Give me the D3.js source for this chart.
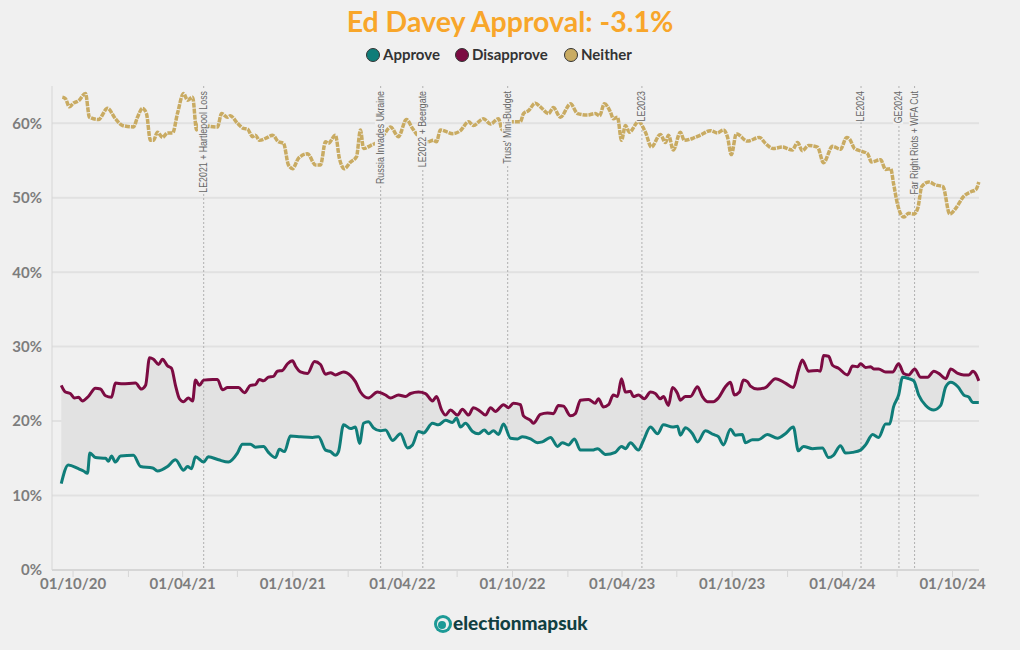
<!DOCTYPE html>
<html><head><meta charset="utf-8">
<script src="https://cdn.jsdelivr.net/npm/d3@7"></script>
<style>body{margin:0;background:#f0f0f0}svg{display:block}</style>
</head><body>
<script>
// ---- DATA (dates as decimal years, values in %) ----
const seriesNames = ["Approve", "Disapprove", "Neither"];
const approve = [[2020.695,11.6],[2020.727,14.1],[2020.773,13.6],[2020.796,13.3],[2020.814,13.0],[2020.825,15.7],[2020.850,15.1],[2020.896,15.0],[2020.909,14.6],[2020.923,15.3],[2020.941,14.5],[2020.964,15.3],[2021.023,15.4],[2021.055,13.9],[2021.110,13.7],[2021.132,13.3],[2021.178,13.9],[2021.214,14.8],[2021.251,13.4],[2021.269,13.9],[2021.287,13.6],[2021.305,15.2],[2021.342,14.5],[2021.364,15.2],[2021.410,14.8],[2021.455,14.5],[2021.496,15.7],[2021.519,16.9],[2021.555,16.9],[2021.578,16.5],[2021.615,16.6],[2021.637,15.8],[2021.669,15.1],[2021.687,16.2],[2021.710,15.9],[2021.737,18.0],[2021.783,17.9],[2021.838,17.8],[2021.865,17.9],[2021.897,16.1],[2021.920,15.9],[2021.942,15.4],[2021.956,15.9],[2021.979,19.5],[2022.011,19.0],[2022.033,19.2],[2022.052,17.0],[2022.070,19.7],[2022.092,19.9],[2022.115,19.1],[2022.147,18.7],[2022.170,18.8],[2022.202,17.4],[2022.238,18.3],[2022.270,16.4],[2022.293,16.8],[2022.320,18.6],[2022.343,18.4],[2022.384,19.7],[2022.411,19.5],[2022.443,20.1],[2022.475,19.8],[2022.493,20.4],[2022.511,19.2],[2022.534,19.7],[2022.566,18.6],[2022.593,18.3],[2022.620,18.8],[2022.639,18.3],[2022.661,18.7],[2022.684,18.2],[2022.707,19.6],[2022.739,17.7],[2022.771,17.6],[2022.793,17.9],[2022.830,17.6],[2022.861,17.1],[2022.884,17.2],[2022.921,17.8],[2022.953,16.6],[2022.975,17.1],[2023.003,16.8],[2023.030,17.6],[2023.057,16.1],[2023.112,16.1],[2023.135,16.3],[2023.171,15.5],[2023.216,15.8],[2023.244,16.6],[2023.262,16.3],[2023.285,17.1],[2023.321,16.1],[2023.344,17.4],[2023.376,19.2],[2023.408,18.3],[2023.435,19.5],[2023.476,19.2],[2023.499,19.3],[2023.512,18.1],[2023.535,19.1],[2023.567,18.3],[2023.590,17.2],[2023.626,18.7],[2023.662,18.2],[2023.685,17.9],[2023.708,16.8],[2023.740,18.9],[2023.763,18.1],[2023.794,18.2],[2023.808,17.1],[2023.840,17.5],[2023.867,17.5],[2023.908,18.2],[2023.954,17.7],[2023.990,18.3],[2024.026,19.2],[2024.049,16.0],[2024.072,16.6],[2024.113,16.3],[2024.158,16.4],[2024.186,15.1],[2024.208,15.4],[2024.240,16.7],[2024.263,15.7],[2024.295,15.8],[2024.331,16.1],[2024.354,16.8],[2024.386,18.2],[2024.413,17.8],[2024.445,19.6],[2024.463,19.6],[2024.481,21.9],[2024.504,23.5],[2024.522,25.9],[2024.550,25.7],[2024.573,25.4],[2024.595,23.5],[2024.627,22.1],[2024.664,21.5],[2024.695,22.1],[2024.718,24.6],[2024.741,25.2],[2024.773,24.6],[2024.800,23.5],[2024.823,23.2],[2024.841,22.5],[2024.868,22.5]];
const disapprove = [[2020.695,24.8],[2020.714,23.9],[2020.736,23.7],[2020.755,23.1],[2020.773,23.2],[2020.791,22.7],[2020.818,23.3],[2020.850,24.4],[2020.873,24.3],[2020.896,23.4],[2020.923,23.2],[2020.941,25.1],[2020.973,25.0],[2021.032,25.1],[2021.059,24.3],[2021.078,24.8],[2021.096,28.5],[2021.114,28.3],[2021.137,27.6],[2021.155,28.3],[2021.178,27.4],[2021.196,27.1],[2021.214,24.8],[2021.232,23.0],[2021.251,22.6],[2021.273,23.1],[2021.292,22.7],[2021.305,25.5],[2021.323,24.8],[2021.342,25.5],[2021.383,25.6],[2021.405,25.6],[2021.428,24.2],[2021.451,24.5],[2021.478,24.5],[2021.501,24.5],[2021.528,23.8],[2021.555,24.8],[2021.578,24.9],[2021.596,25.6],[2021.615,25.4],[2021.637,25.9],[2021.660,26.0],[2021.678,26.7],[2021.701,26.8],[2021.724,27.7],[2021.747,28.1],[2021.760,27.4],[2021.783,26.6],[2021.815,26.4],[2021.847,28.0],[2021.874,27.6],[2021.897,26.3],[2021.920,26.5],[2021.942,26.2],[2021.979,26.6],[2022.011,26.1],[2022.033,25.3],[2022.056,23.9],[2022.092,23.1],[2022.133,23.9],[2022.170,23.5],[2022.193,23.1],[2022.229,23.5],[2022.261,23.3],[2022.284,23.7],[2022.320,23.9],[2022.352,23.7],[2022.384,22.7],[2022.402,23.3],[2022.425,21.5],[2022.443,20.8],[2022.466,21.5],[2022.497,20.8],[2022.520,21.6],[2022.548,20.8],[2022.570,21.8],[2022.602,21.3],[2022.625,20.8],[2022.648,21.8],[2022.670,21.3],[2022.707,22.2],[2022.730,21.8],[2022.752,22.4],[2022.784,22.2],[2022.798,20.7],[2022.830,20.1],[2022.843,19.7],[2022.875,20.9],[2022.907,21.1],[2022.934,21.0],[2022.957,22.1],[2022.980,22.0],[2023.012,20.7],[2023.034,21.0],[2023.057,22.8],[2023.094,22.9],[2023.125,22.4],[2023.139,23.0],[2023.162,21.9],[2023.185,22.2],[2023.207,23.5],[2023.226,23.3],[2023.244,25.7],[2023.262,23.9],[2023.285,24.0],[2023.298,23.3],[2023.321,23.5],[2023.348,23.0],[2023.376,23.9],[2023.398,23.7],[2023.421,23.0],[2023.435,23.3],[2023.458,22.1],[2023.476,24.5],[2023.499,23.7],[2023.512,22.8],[2023.535,23.3],[2023.558,23.3],[2023.590,24.6],[2023.612,23.3],[2023.635,22.6],[2023.662,22.6],[2023.685,23.1],[2023.717,24.6],[2023.740,25.2],[2023.758,23.5],[2023.781,23.9],[2023.799,25.5],[2023.817,25.3],[2023.831,24.7],[2023.863,24.3],[2023.899,24.5],[2023.945,25.7],[2023.990,25.1],[2024.026,24.5],[2024.049,26.8],[2024.067,28.2],[2024.095,26.7],[2024.136,26.8],[2024.149,26.7],[2024.163,28.8],[2024.186,28.7],[2024.204,27.5],[2024.231,27.1],[2024.272,26.2],[2024.295,27.4],[2024.318,27.3],[2024.331,27.7],[2024.354,27.2],[2024.377,27.3],[2024.391,27.0],[2024.413,27.0],[2024.445,26.6],[2024.477,26.6],[2024.504,27.7],[2024.527,26.4],[2024.550,26.2],[2024.577,27.0],[2024.604,25.9],[2024.636,25.9],[2024.664,26.7],[2024.686,26.4],[2024.718,25.7],[2024.741,27.0],[2024.773,26.4],[2024.800,26.2],[2024.823,26.2],[2024.841,26.7],[2024.855,26.3],[2024.868,25.4]];
const neither = [[2020.700,63.5],[2020.714,63.3],[2020.732,62.2],[2020.750,62.7],[2020.773,63.0],[2020.805,64.0],[2020.823,60.8],[2020.864,60.5],[2020.905,62.0],[2020.941,60.6],[2020.973,59.7],[2021.023,59.5],[2021.041,60.8],[2021.064,62.0],[2021.082,61.3],[2021.100,57.7],[2021.114,57.7],[2021.132,58.8],[2021.155,58.1],[2021.178,58.7],[2021.201,58.7],[2021.223,61.3],[2021.251,64.0],[2021.269,63.1],[2021.292,63.5],[2021.310,59.1],[2021.328,60.2],[2021.351,59.7],[2021.405,59.5],[2021.424,61.3],[2021.451,60.8],[2021.464,61.0],[2021.496,60.0],[2021.524,59.3],[2021.542,59.2],[2021.565,58.2],[2021.578,58.4],[2021.596,57.7],[2021.633,58.1],[2021.656,58.4],[2021.683,57.5],[2021.706,57.3],[2021.728,54.4],[2021.747,53.9],[2021.774,55.3],[2021.815,55.9],[2021.851,54.4],[2021.874,54.4],[2021.897,57.5],[2021.910,57.3],[2021.942,58.4],[2021.960,55.3],[2021.983,53.9],[2022.011,54.8],[2022.038,55.5],[2022.056,59.1],[2022.070,56.6],[2022.102,57.0],[2022.133,57.5],[2022.161,58.4],[2022.193,59.5],[2022.229,58.2],[2022.265,60.5],[2022.293,59.3],[2022.315,58.4],[2022.361,57.5],[2022.388,57.7],[2022.402,57.5],[2022.420,59.1],[2022.452,58.8],[2022.475,58.6],[2022.511,59.0],[2022.548,60.2],[2022.570,59.7],[2022.616,60.6],[2022.648,59.9],[2022.684,60.6],[2022.702,59.1],[2022.739,60.2],[2022.784,60.2],[2022.798,61.3],[2022.821,61.7],[2022.852,62.7],[2022.875,62.2],[2022.912,61.3],[2022.934,62.1],[2022.966,60.8],[2023.012,62.6],[2023.044,61.3],[2023.089,61.1],[2023.125,61.3],[2023.144,61.0],[2023.166,62.6],[2023.194,61.5],[2023.207,60.6],[2023.226,60.8],[2023.244,57.7],[2023.262,59.7],[2023.280,58.8],[2023.321,60.2],[2023.353,58.8],[2023.380,56.8],[2023.421,58.5],[2023.444,57.4],[2023.458,58.4],[2023.480,56.4],[2023.512,58.8],[2023.530,57.7],[2023.571,58.0],[2023.603,58.4],[2023.649,59.0],[2023.681,58.7],[2023.708,59.1],[2023.726,58.2],[2023.744,55.8],[2023.767,58.6],[2023.817,57.6],[2023.872,58.1],[2023.899,57.3],[2023.935,56.6],[2023.976,56.8],[2024.022,56.4],[2024.045,57.4],[2024.067,56.3],[2024.095,57.0],[2024.136,56.8],[2024.163,54.7],[2024.204,56.9],[2024.240,56.5],[2024.268,58.1],[2024.281,57.9],[2024.304,56.6],[2024.340,56.2],[2024.363,55.9],[2024.381,54.8],[2024.422,55.1],[2024.445,53.8],[2024.468,53.9],[2024.481,51.9],[2024.500,49.0],[2024.527,47.4],[2024.550,47.9],[2024.573,47.8],[2024.591,48.6],[2024.609,51.5],[2024.641,52.1],[2024.673,51.7],[2024.705,51.5],[2024.736,47.8],[2024.764,48.6],[2024.800,50.2],[2024.832,50.8],[2024.855,51.1],[2024.868,52.1]];
const events = [
  ["2021-05-06", "LE2021 + Hartlepool Loss"],
  ["2022-02-24", "Russia Invades Ukraine"],
  ["2022-05-05", "LE2022 + Beergate"],
  ["2022-09-23", "Truss' Mini-Budget"],
  ["2023-05-04", "LE2023"],
  ["2024-05-02", "LE2024"],
  ["2024-07-04", "GE2024"],
  ["2024-07-30", "Far Right Riots + WFA Cut"]
];
const yTicks = [0, 10, 20, 30, 40, 50, 60];
const titleText = "Ed Davey Approval: -3.1%";
const domainStart = "2020-08-27", domainEnd = "2024-11-14";

// ---- helpers ----
const dec = t => { const y = Math.floor(t), s = Date.UTC(y,0,1), e = Date.UTC(y+1,0,1); return new Date(s + (t - y) * (e - s)); };
const W = 1020, H = 650;
const L = 52, R = 979, T = 86, B = 570;
const colors = {Approve: "#0f7d79", Disapprove: "#7c0b42", Neither: "#c9ab62"};

const svg = d3.select("body").append("svg").attr("width", W).attr("height", H);
svg.append("rect").attr("width", W).attr("height", H).attr("fill", "#f0f0f0");

const x = d3.scaleUtc().domain([new Date(domainStart), new Date(domainEnd)]).range([L, R]);
const y = d3.scaleLinear().domain([0, 65]).range([B, T]);

// grid
svg.append("g").selectAll("line").data(yTicks.filter(d => d > 0)).join("line")
  .attr("x1", L).attr("x2", R).attr("y1", d => y(d)).attr("y2", d => y(d))
  .attr("stroke", "#e1e1e1").attr("stroke-width", 2);

// y axis line
svg.append("line").attr("x1", L).attr("x2", L).attr("y1", T).attr("y2", B).attr("stroke", "#d6d6d6").attr("stroke-width", 1);
// y labels
svg.append("g").selectAll("text").data(yTicks).join("text")
  .attr("x", 42).attr("y", d => y(d)).attr("dy", "0.36em").attr("text-anchor", "end")
  .attr("font-family", "Lato, sans-serif").attr("font-weight", 700).attr("font-size", 15)
  .attr("fill", "#7d7d7d").text(d => d + "%");

// x axis
const xt = d3.utcMonth.every(3).range(new Date("2020-10-01"), new Date("2024-10-02"));
svg.append("line").attr("x1", L).attr("x2", R).attr("y1", B).attr("y2", B).attr("stroke", "#d6d6d6").attr("stroke-width", 2);
svg.append("g").selectAll("line").data(xt).join("line")
  .attr("x1", d => x(d)).attr("x2", d => x(d)).attr("y1", B).attr("y2", B + 7)
  .attr("stroke", "#d6d6d6").attr("stroke-width", 1);
const fmt = d3.utcFormat("%d/%m/%y");
svg.append("g").selectAll("text").data(xt.filter(d => d.getUTCMonth() % 6 === 3)).join("text")
  .attr("x", d => x(d)).attr("y", 589).attr("text-anchor", "middle")
  .attr("font-family", "Lato, sans-serif").attr("font-weight", 700).attr("font-size", 15)
  .attr("fill", "#7d7d7d").text(d => fmt(d));

// area between approve and disapprove
const pts = disapprove.map(d => [x(dec(d[0])), y(d[1])]).concat(approve.slice().reverse().map(d => [x(dec(d[0])), y(d[1])]));
svg.append("path").attr("d", d3.line()(pts) + "Z").attr("fill", "#e2e2e2");

// event lines
const evG = svg.append("g");
evG.selectAll("line").data(events).join("line")
  .attr("x1", d => x(new Date(d[0]))).attr("x2", d => x(new Date(d[0])))
  .attr("y1", T).attr("y2", B)
  .attr("stroke", "#b0b0b0").attr("stroke-width", 1).attr("stroke-dasharray", "2,2");

// lines
const line = d3.line().x(d => x(dec(d[0]))).y(d => y(d[1])).curve(d3.curveMonotoneX);
svg.append("path").datum(neither).attr("d", line).attr("fill", "none")
  .attr("stroke", colors.Neither).attr("stroke-width", 3.5).attr("stroke-dasharray", "5,1");
svg.append("path").datum(disapprove).attr("d", line).attr("fill", "none")
  .attr("stroke", colors.Disapprove).attr("stroke-width", 3).attr("stroke-linejoin", "round");
svg.append("path").datum(approve).attr("d", line).attr("fill", "none")
  .attr("stroke", colors.Approve).attr("stroke-width", 3).attr("stroke-linejoin", "round");

// event labels with background
const lab = svg.append("g").selectAll("g").data(events).join("g")
  .attr("transform", d => `translate(${x(new Date(d[0])) + 3},91) rotate(-90) scale(0.84,1)`);
const labT = lab.append("text").attr("x", 0).attr("y", 0).attr("text-anchor", "end")
  .attr("font-family", "'Liberation Sans', Arial, sans-serif").attr("font-size", 10.5)
  .attr("fill", "#666").text(d => d[1]);
labT.each(function() {
  const b = this.getBBox();
  d3.select(this.parentNode).insert("rect", "text").attr("x", b.x - 1).attr("y", b.y + 1).attr("width", b.width + 2).attr("height", b.height - 2).attr("fill", "#f0f0f0");
});

// title
svg.append("text").attr("x", 510).attr("y", 32).attr("text-anchor", "middle")
  .attr("font-family", "Lato, sans-serif").attr("font-weight", 700).attr("font-size", 28.5)
  .attr("fill", "#f8a62a").text(titleText);

// legend
const legX = [373, 462, 571];
const leg = svg.append("g").selectAll("g").data(seriesNames).join("g")
  .attr("transform", (d, i) => `translate(${legX[i]},55)`);
leg.append("circle").attr("r", 6.5).attr("fill", d => colors[d]).attr("stroke", "#333").attr("stroke-width", 1);
leg.append("text").attr("x", 10).attr("dy", "0.35em")
  .attr("font-family", "Lato, sans-serif").attr("font-weight", 700).attr("font-size", 15)
  .attr("fill", "#333").text(d => d);

// logo
const logo = svg.append("g").attr("transform", "translate(443,624)");
logo.append("circle").attr("r", 9).attr("fill", "#1d9a96");
logo.append("circle").attr("r", 6).attr("fill", "#f0f0f0");
logo.append("circle").attr("r", 4).attr("cx", -1).attr("cy", 1).attr("fill", "#1d9a96");
svg.append("text").attr("x", 453).attr("y", 630).attr("font-family", "Lato, sans-serif")
  .attr("font-weight", 900).attr("font-size", 19).attr("fill", "#123f42").text("electionmapsuk");
</script>
</body></html>
